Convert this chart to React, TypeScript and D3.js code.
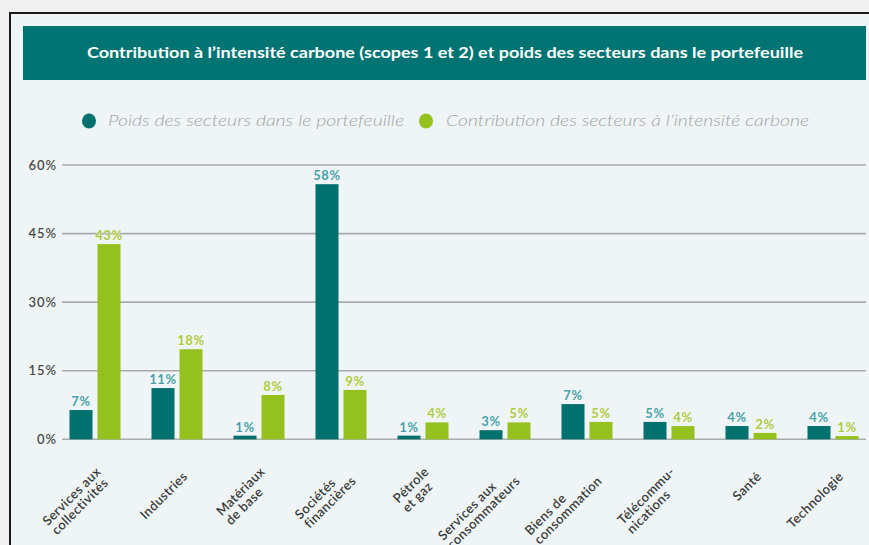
import React, { useEffect, useRef } from "react";
import * as d3 from "d3";

const categories: string[][] = [
  ["Services aux", "collectivités"],
  ["Industries"],
  ["Matériaux", "de base"],
  ["Sociétés", "financières"],
  ["Pétrole", "et gaz"],
  ["Services aux", "consommateurs"],
  ["Biens de", "consommation"],
  ["Télécommu-", "nications"],
  ["Santé"],
  ["Technologie"],
];
const weightValues = [6.4, 11.2, 0.8, 55.8, 0.8, 2.0, 7.7, 3.8, 2.9, 2.9];
const carbonValues = [42.7, 19.7, 9.7, 10.8, 3.7, 3.7, 3.8, 2.9, 1.4, 0.7];
const weightLabels = ["7%", "11%", "1%", "58%", "1%", "3%", "7%", "5%", "4%", "4%"];
const carbonLabels = ["43%", "18%", "8%", "9%", "4%", "5%", "5%", "4%", "2%", "1%"];
const yTicks = [0, 15, 30, 45, 60];
const seriesNames = [
  "Poids des secteurs dans le portefeuille",
  "Contribution des secteurs à l’intensité carbone",
];
const title =
  "Contribution à l’intensité carbone (scopes 1 et 2) et poids des secteurs dans le portefeuille";

const W = 869;
const H = 545;
const TEAL = "#00716f";
const GREEN = "#95c11f";
const FONT = "Lato, 'Open Sans', sans-serif";

export default function App() {
  const ref = useRef<SVGSVGElement | null>(null);

  useEffect(() => {
    const svg = d3.select(ref.current);
    svg.selectAll("*").remove();

    // backgrounds
    svg.append("rect").attr("width", W).attr("height", H).attr("fill", "#f1f1f1");
    svg
      .append("rect")
      .attr("x", 10)
      .attr("y", 13)
      .attr("width", W + 20)
      .attr("height", H + 20)
      .attr("fill", "#eff5f6")
      .attr("stroke", "#1a1a1a")
      .attr("stroke-width", 2);

    // header
    svg.append("rect").attr("x", 23).attr("y", 26).attr("width", 843).attr("height", 54).attr("fill", "#007473");
    svg
      .append("text")
      .attr("x", 445)
      .attr("y", 53)
      .attr("dy", "0.35em")
      .attr("text-anchor", "middle")
      .attr("fill", "#ffffff")
      .attr("font-family", FONT)
      .attr("font-weight", 700)
      .attr("font-size", 15)
      .attr("textLength", 716)
      .attr("lengthAdjust", "spacingAndGlyphs")
      .text(title);

    // legend
    const legendItems = [
      { cx: 89, tx: 108, len: 296, color: TEAL },
      { cx: 426, tx: 446, len: 363, color: GREEN },
    ];
    legendItems.forEach((it, i) => {
      svg.append("ellipse").attr("cx", it.cx).attr("cy", 121).attr("rx", 7).attr("ry", 7.5).attr("fill", it.color);
      svg
        .append("text")
        .attr("x", it.tx)
        .attr("y", 121)
        .attr("dy", "0.35em")
        .attr("fill", "#a3a3a3")
        .attr("font-family", FONT)
        .attr("font-style", "italic")
        .attr("font-weight", 300)
        .attr("font-size", 15.5)
        .attr("textLength", it.len)
        .attr("lengthAdjust", "spacingAndGlyphs")
        .text(seriesNames[i]);
    });

    // scales
    const y = d3.scaleLinear().domain([0, 60]).range([439.3, 165]);
    const idx = categories.map((_, i) => String(i));
    const x = d3.scaleBand<string>().domain(idx).range([54, 874]).paddingInner(0.378).paddingOuter(0.189);
    const xs = d3.scaleBand<string>().domain(["w", "c"]).range([0, x.bandwidth()]).paddingInner(5 / 28);

    // grid
    const g = svg.append("g");
    yTicks.forEach((t) => {
      g.append("line")
        .attr("x1", 62)
        .attr("x2", 866)
        .attr("y1", y(t))
        .attr("y2", y(t))
        .attr("stroke", "#a9abab")
        .attr("stroke-width", 1.6);
      g.append("text")
        .attr("x", 57)
        .attr("y", y(t))
        .attr("dy", "0.35em")
        .attr("text-anchor", "end")
        .attr("fill", "#4a4a4a")
        .attr("font-family", FONT)
        .attr("font-weight", 600)
        .attr("font-size", 13)
        .attr("letter-spacing", 1)
        .text(`${t}%`);
    });

    // bars
    const series = [
      { key: "w", vals: weightValues, labels: weightLabels, color: TEAL, lab: "#45a0aa" },
      { key: "c", vals: carbonValues, labels: carbonLabels, color: GREEN, lab: "#a9ca3e" },
    ];
    series.forEach((s) => {
      idx.forEach((k, i) => {
        const bx = (x(k) as number) + (xs(s.key) as number);
        const bw = xs.bandwidth();
        g.append("rect")
          .attr("x", bx)
          .attr("y", y(s.vals[i]))
          .attr("width", bw)
          .attr("height", y(0) - y(s.vals[i]))
          .attr("fill", s.color);
        g.append("text")
          .attr("x", bx + bw / 2)
          .attr("y", y(s.vals[i]) - 4)
          .attr("text-anchor", "middle")
          .attr("fill", s.lab)
          .attr("stroke", "#ffffff")
          .attr("stroke-width", 0.6)
          .attr("paint-order", "stroke")
          .attr("font-family", FONT)
          .attr("font-weight", 700)
          .attr("font-size", 13)
          .attr("letter-spacing", 0.6)
          .text(s.labels[i]);
      });
    });

    // category labels
    const lh = 13;
    idx.forEach((k, i) => {
      const cx = (x(k) as number) + x.bandwidth() / 2 + 8;
      const cy = 474;
      const lg = g.append("g").attr("transform", `translate(${cx},${cy}) rotate(-45)`);
      const lines = categories[i];
      const texts = lines.map((line, j) =>
        lg
          .append("text")
          .attr("y", (j - (lines.length - 1) / 2) * lh)
          .attr("dy", "0.35em")
          .attr("fill", "#3a3a3a")
          .attr("font-family", FONT)
          .attr("font-weight", 600)
          .attr("font-size", 13)
          .attr("letter-spacing", 0.4)
          .text(line)
      );
      const lens = texts.map((t) => (t.node() as SVGTextElement).getComputedTextLength());
      const maxLen = d3.max(lens) || 0;
      texts.forEach((t) => t.attr("x", -maxLen));
    });
  }, []);

  return (
    <svg
      ref={ref}
      width={W}
      height={H}
      style={{ position: "absolute", left: 0, top: 0, display: "block" }}
    />
  );
}
